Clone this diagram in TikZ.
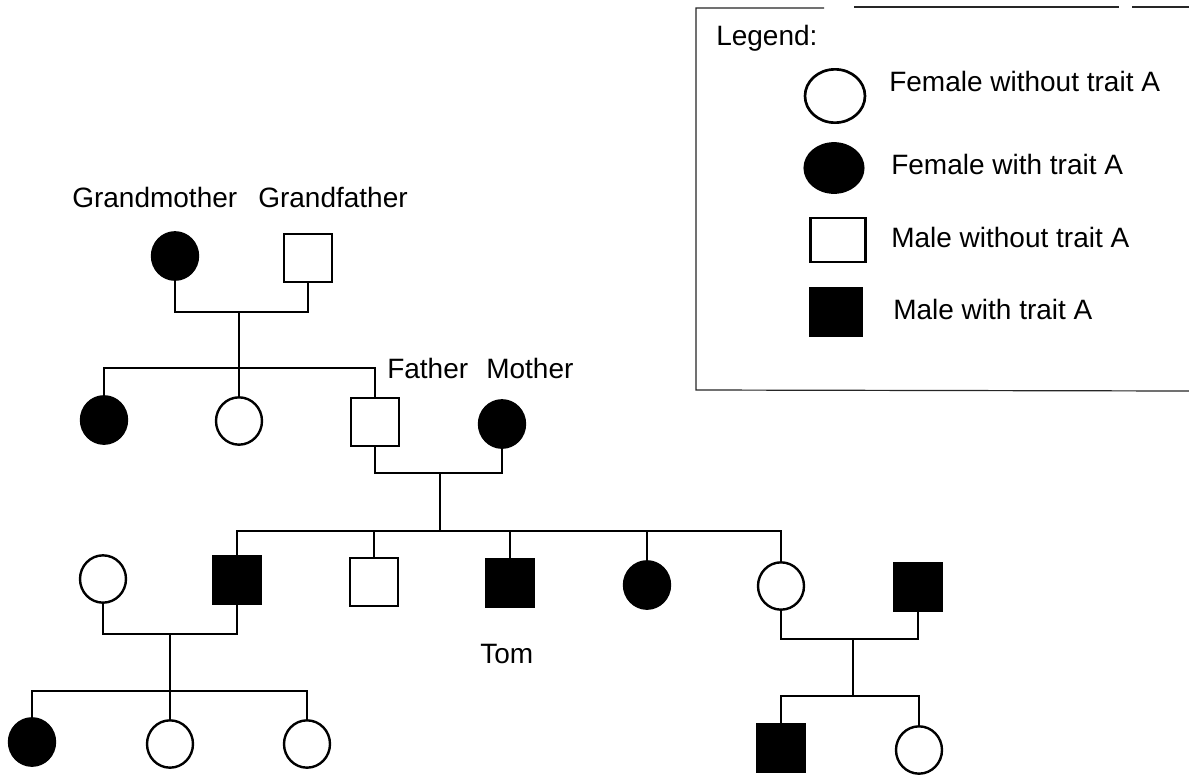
\documentclass[tikz,border=0pt]{standalone}
\usepackage{fontspec}
\setmainfont{Liberation Sans}
\usetikzlibrary{shapes.geometric}
\begin{document}
\begin{tikzpicture}[x=0.75pt,y=-0.75pt,
  pline/.style={line width=2pt, line join=miter},
  fem/.style={ellipse, draw, line width=1.8pt, inner sep=0pt, minimum width=34.5pt, minimum height=35.5pt},
  femA/.style={fem, fill=black},
  mal/.style={rectangle, draw, line width=1.8pt, inner sep=0pt, minimum width=36pt, minimum height=36pt},
  malA/.style={mal, fill=black},
  lab/.style={anchor=base west, inner sep=0pt, font=\fontsize{21}{25}\selectfont},
  lframe/.style={line width=0.9pt, draw=black!85}
]
\useasboundingbox[fill=white] (0,0) rectangle (1189,775);

% Generation I
\node[femA] (GM) at (175,256) {};
\node[mal]  (GF) at (308,258) {};
\node[lab] (tGM) at (72,207) {Grandmother};
\node[lab] (tGF) at (258,207) {Grandfather};

% Generation II
\node[femA] (A1) at (104,420) {};
\node[fem]  (A2) at (239,421) {};
\node[mal]  (F)  at (375,422) {};
\node[femA] (M)  at (502,424) {};
\node[lab] (tF) at (387,378) {Father};
\node[lab] (tM) at (486,378) {Mother};

% Generation III
\node[fem]  (W)   at (103,579) {};
\node[malA] (U)   at (237,580) {};
\node[mal]  (B2)  at (374,582) {};
\node[malA] (Tom) at (510,583) {};
\node[femA] (S1)  at (647,585) {};
\node[fem]  (S2)  at (781,586) {};
\node[malA] (BIL) at (918,587) {};
\node[lab] (tTom) at (480,663) {Tom};

% Generation IV
\node[femA] (G1) at (32,742) {};
\node[fem]  (G2) at (170,744) {};
\node[fem]  (G3) at (307,744) {};
\node[malA] (G4) at (781,748) {};
\node[fem]  (G5) at (919,750) {};

% Connectors: grandparents
\coordinate (gpm) at (239,312);
\coordinate (gps) at (239,368);
\draw[pline] (GM.south) |- (gpm) -| (GF.south);
\draw[pline] (gpm) -- (gps);
\draw[pline] (A1.north) |- (gps) -| (F.north);
\draw[pline] (gps) -- (A2.north);

% Connectors: parents
\coordinate (pm) at (440,473);
\coordinate (ps) at (440,531);
\draw[pline] (F.south) |- (pm) -| (M.south);
\draw[pline] (pm) -- (ps);
\draw[pline] (U.north) |- (ps) -| (S2.north);
\draw[pline] (B2.north |- ps) -- (B2.north);
\draw[pline] (Tom.north |- ps) -- (Tom.north);
\draw[pline] (S1.north |- ps) -- (S1.north);

% Connectors: uncle's family
\coordinate (wu) at (170,634);
\coordinate (wus) at (170,691);
\draw[pline] (W.south) |- (wu) -| (U.south);
\draw[pline] (wu) -- (wus);
\draw[pline] (G1.north) |- (wus) -| (G3.north);
\draw[pline] (wus) -- (G2.north);

% Connectors: sister's family
\coordinate (sb) at (853,639);
\coordinate (sbs) at (853,696);
\draw[pline] (S2.south) |- (sb) -| (BIL.south);
\draw[pline] (sb) -- (sbs);
\draw[pline] (G4.north) |- (sbs) -| (G5.north);

% Legend frame
\coordinate (Ltl) at (696,8);
\coordinate (Lbl) at (696,390);
\coordinate (Lbr) at (1189,391);
\coordinate (Ltg1) at (824,8);
\coordinate (Ltg2) at (854,7);
\coordinate (Ltg3) at (1119,7);
\coordinate (Ltg4) at (1132,7);
\coordinate (Ltr) at (1189,7);
\draw[lframe] (Ltg1) -- (Ltl) -- (Lbl) -- (Lbr);
\draw[lframe] (Ltg2) -- (Ltg3);
\draw[lframe] (Ltg4) -- (Ltr);

\node[lab] (tLeg) at (716,45) {Legend:};
\node[fem, line width=2pt, minimum width=45pt, minimum height=40pt] (L1) at (835,96) {};
\node[femA, minimum width=44pt, minimum height=37pt] (L2) at (834,168) {};
\node[mal, line width=2pt, minimum width=41pt, minimum height=33pt] (L3) at (838,240) {};
\node[malA, minimum width=39pt, minimum height=36pt] (L4) at (836,312) {};
\node[lab] (t1) at (889,91) {Female without trait A};
\node[lab] (t2) at (891,174) {Female with trait A};
\node[lab] (t3) at (891,247) {Male without trait A};
\node[lab] (t4) at (893,319) {Male with trait A};
\end{tikzpicture}
\end{document}
